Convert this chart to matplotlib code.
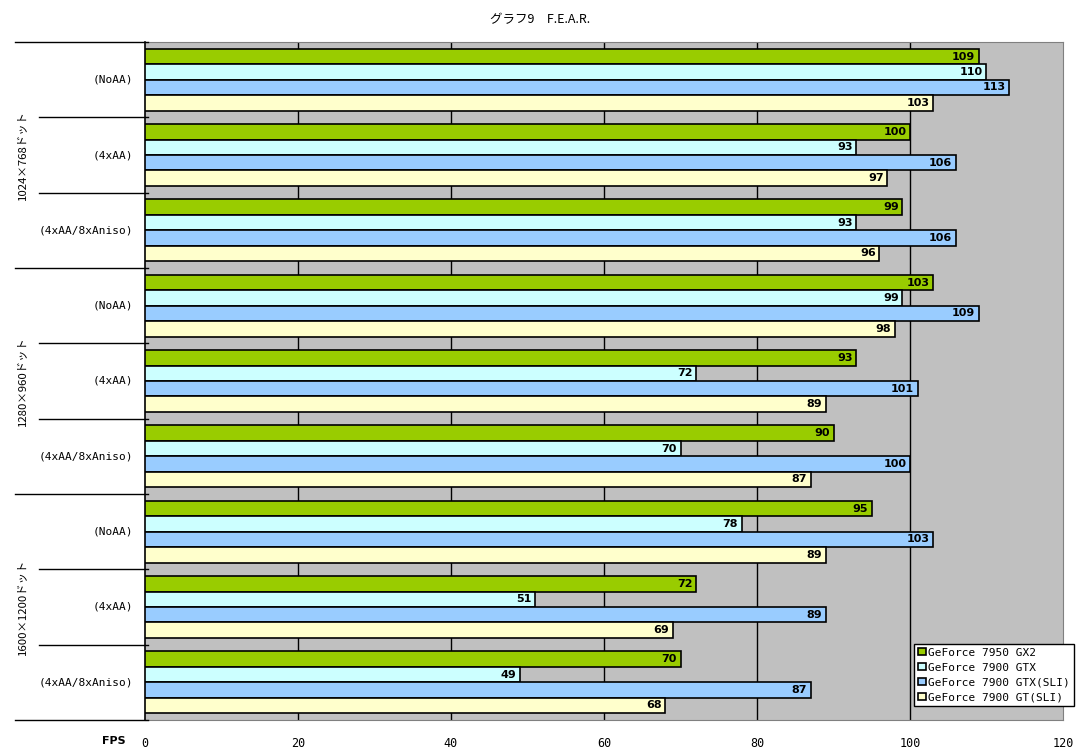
import matplotlib
matplotlib.use('Agg')
import matplotlib.pyplot as plt
import numpy as np

plt.rcParams['font.family'] = ['Noto Sans CJK JP', 'DejaVu Sans']
MONO = ['DejaVu Sans Mono', 'Noto Sans CJK JP']

title = 'グラフ9　F.E.A.R.'
resolutions = ['1024×768ドット', '1280×960ドット', '1600×1200ドット']
settings = ['(NoAA)', '(4xAA)', '(4xAA/8xAniso)']
series = ['GeForce 7950 GX2', 'GeForce 7900 GTX',
          'GeForce 7900 GTX(SLI)', 'GeForce 7900 GT(SLI)']
colors = ['#99CC00', '#CCFFFF', '#99CCFF', '#FFFFCC']

# one list per series, groups in order: res x setting
gx2 = [109, 100, 99, 103, 93, 90, 95, 72, 70]
gtx = [110, 93, 93, 99, 72, 70, 78, 51, 49]
gtx_sli = [113, 106, 106, 109, 101, 100, 103, 89, 87]
gt_sli = [103, 97, 96, 98, 89, 87, 89, 69, 68]
values = [gx2, gtx, gtx_sli, gt_sli]
xticks = [0, 20, 40, 60, 80, 100, 120]

fig = plt.figure(figsize=(10.81, 7.54), dpi=100)
ax = fig.add_axes([145 / 1081, 34 / 754, 918 / 1081, 678 / 754])
ax.set_facecolor('#C0C0C0')

n_groups = len(gx2)
pos = np.arange(n_groups)
bh = 0.205
offsets = (np.arange(4) - 1.5) * bh

for vals, col, off, name in zip(values, colors, offsets, series):
    ax.barh(pos + off, vals, height=bh, color=col, edgecolor='black',
            linewidth=1.2, label=name, zorder=3)
    for y, v in zip(pos + off, vals):
        ax.annotate(str(v), (v, y), xytext=(-2.5, 0), textcoords='offset points',
                    ha='right', va='center', fontsize=8, fontweight='bold',
                    family='DejaVu Sans', zorder=4)

ax.set_xlim(0, 120)
ax.set_ylim(n_groups - 0.5, -0.5)
for x in xticks[1:-1]:
    ax.axvline(x, color='black', linewidth=1, zorder=1)

for s in ax.spines.values():
    s.set_color('#808080')
ax.spines['left'].set_color('black')
ax.spines['left'].set_linewidth(1.2)

ax.set_xticks(xticks)
ax.set_xticklabels([str(t) for t in xticks], fontsize=8.5, family=MONO)
ax.tick_params(axis='x', length=0, pad=12)
ax.set_yticks([])

# category labels and separator lines
ytr = ax.get_yaxis_transform()
for i in range(n_groups):
    ax.text(-0.013, i, settings[i % 3], transform=ytr, ha='right',
            va='center', fontsize=8, family=MONO)
for b in range(n_groups + 1):
    x0 = -0.1416 if b % 3 == 0 else -0.1155
    ax.plot([x0, 0.003], [b - 0.5, b - 0.5], color='black', linewidth=1,
            transform=ytr, clip_on=False, zorder=5)
for r, res in enumerate(resolutions):
    ax.text(-0.134, 3 * r + 1, res, transform=ytr, rotation=90,
            ha='center', va='center', fontsize=8.2)

ax.text(-0.021, -0.031, 'FPS', transform=ax.transAxes, ha='right',
        va='center', fontsize=8, fontweight='bold', family='DejaVu Sans')

fig.text(0.5, 1 - 20 / 754, title, ha='center', va='center', fontsize=9)

leg = ax.legend(loc='lower right', bbox_to_anchor=(1.012, 0.02),
                prop={'family': MONO, 'size': 8}, frameon=True,
                fancybox=False, framealpha=1, edgecolor='black',
                handlelength=0.65, handleheight=0.65, handletextpad=0.25,
                borderpad=0.35, labelspacing=0.45, borderaxespad=0)
leg.get_frame().set_linewidth(1)

fig.savefig('out.png', dpi=100)
